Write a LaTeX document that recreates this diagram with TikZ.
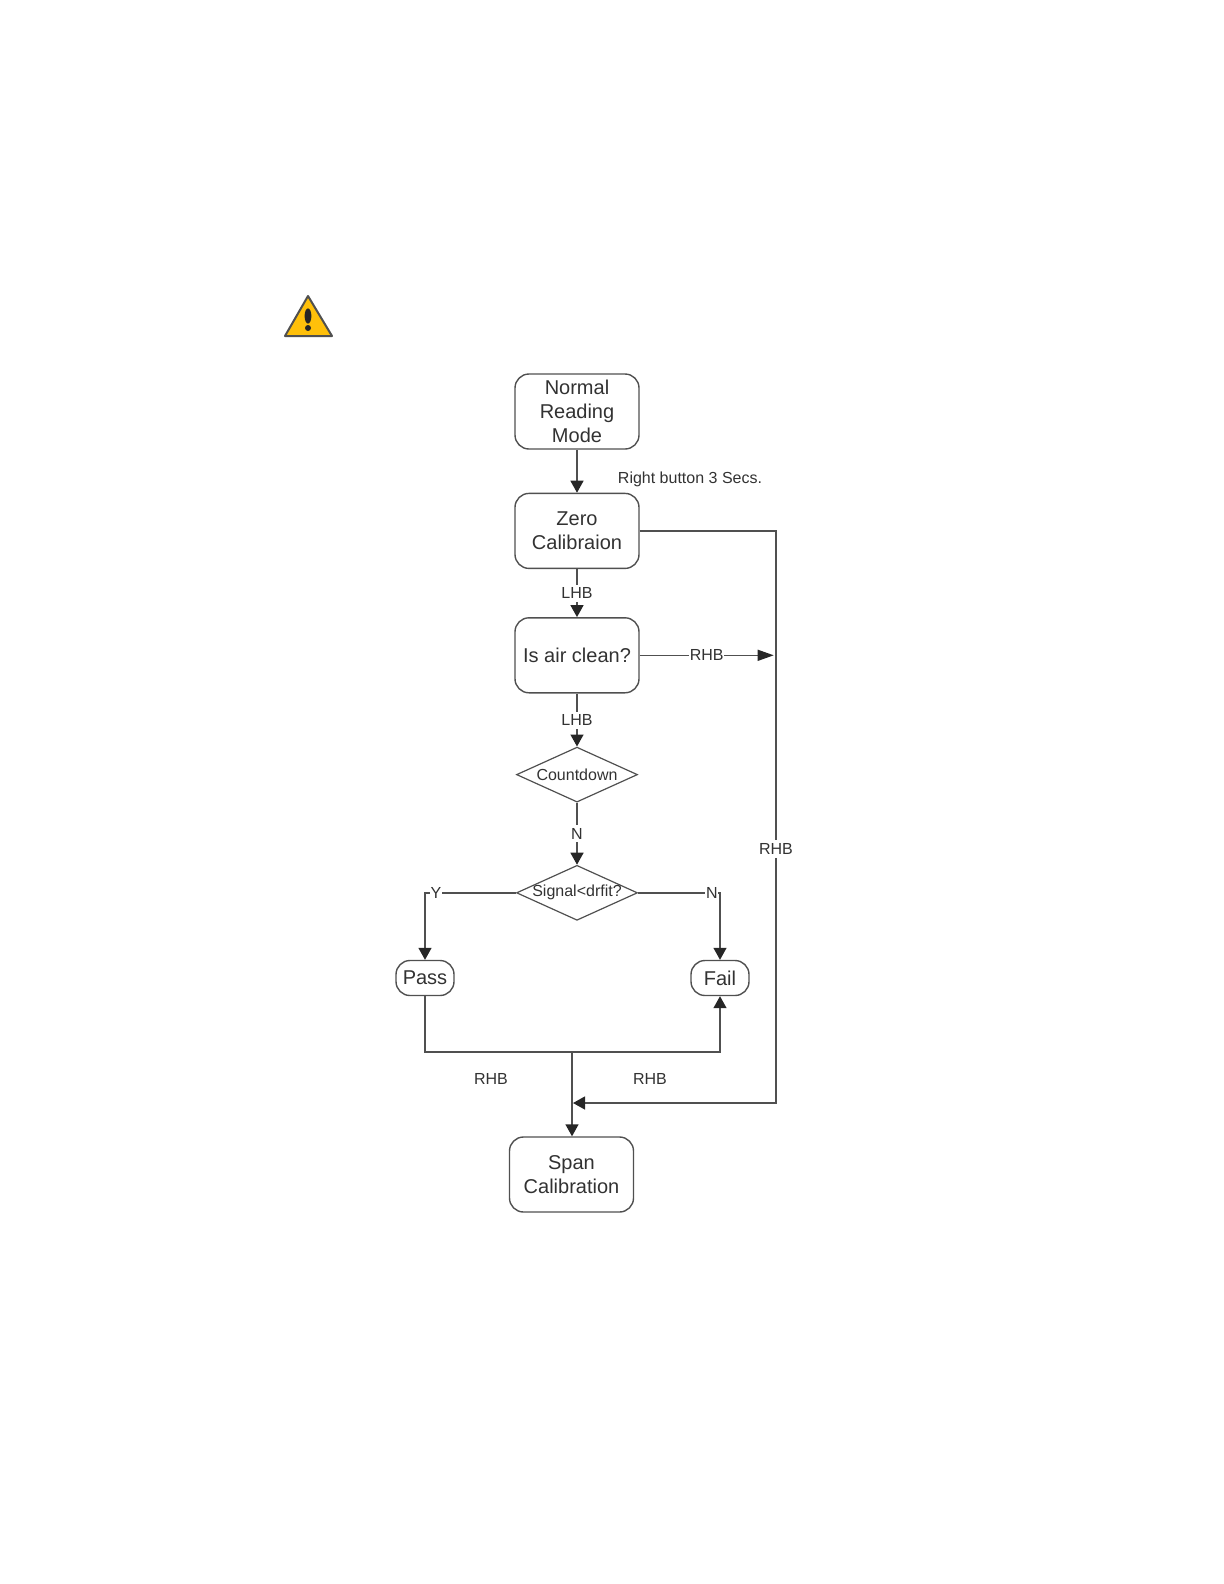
\documentclass[tikz,border=0pt]{standalone}
\usepackage{fontspec}
\setmainfont{Liberation Sans}
\usetikzlibrary{arrows.meta,positioning,shapes.geometric}
\definecolor{LineGrey}{RGB}{80,80,80}
\definecolor{TextGrey}{RGB}{50,50,50}
\definecolor{SignYellow}{RGB}{255,192,10}
\tikzset{
  modebox/.style={draw=LineGrey,rounded corners=7bp,line width=0.7bp,
    minimum width=62bp,minimum height=37.5bp,inner sep=0pt,align=center,
    text=TextGrey,font=\fontsize{10bp}{11.9bp}\selectfont},
  resultbox/.style={modebox,minimum width=29bp,minimum height=17.5bp},
  decision/.style={diamond,aspect=2.2,draw=LineGrey,line width=0.6bp,
    minimum width=60.5bp,minimum height=27.5bp,inner sep=-1.5bp,align=center,
    text=TextGrey,font=\fontsize{8bp}{9.5bp}\selectfont},
  keylabel/.style={fill=white,inner xsep=0.3bp,inner ysep=1.5bp,text=TextGrey,
    font=\fontsize{8bp}{9.5bp}\selectfont},
  plainlabel/.style={keylabel,fill=none},
  link/.style={draw=LineGrey,line width=0.7bp},
  arrow/.style={link,-{Triangle[length=6bp,width=6.5bp,color=black!85]}},
  longarrow/.style={link,-{Triangle[length=8bp,width=5.5bp,color=black!85]}}
}

\begin{document}
\begin{tikzpicture}[x=0.5bp,y=-0.5bp]
  \useasboundingbox (0,0) rectangle (1224,1584);
  \fill[SignYellow,draw=LineGrey,line width=1bp,line join=round] (308,296) -- (332,336) -- (285,336) -- cycle;
  \fill[black!85] (308,316) ellipse (1.7bp and 3.8bp);
  \fill[black!85] (308,328) circle (1.5bp);
  \node[modebox] (normal) at (577,411.5) {Normal\\Reading\\Mode};
  \node[modebox,below=21.5bp of normal] (zero) {Zero\\Calibraion};
  \node[modebox,below=24bp of zero] (air) {Is air clean?};
  \node[decision,below=26.5bp of air] (countdown) {Countdown};
  \node[decision,below=31bp of countdown] (signal) {Signal<drfit?};
  \node[resultbox] (pass) at (425,978) {Pass};
  \node[resultbox] (fail) at (720,978) {Fail};
  \node[modebox] (span) at (571.5,1174.5) {Span\\Calibration};
  \node[plainlabel] (button) at (690,479) {Right button 3 Secs.};
  \node[plainlabel] (rhbleft) at (491,1079) {RHB};
  \node[plainlabel] (rhbright) at (650,1079) {RHB};
  \node[keylabel] (rhbside) at (776,849) {RHB};
  \coordinate[right=67bp of air.east] (airend);
  \coordinate (join) at (572,1052);
  \coordinate (merge) at (573,1103);
  \draw[arrow] (normal) -- (zero);
  \draw[arrow] (zero) -- node[keylabel] {LHB} (air);
  \draw[arrow] (air) -- node[keylabel] {LHB} (countdown);
  \draw[arrow] (countdown) -- node[keylabel] {N} (signal);
  \draw[longarrow] (air.east) -- node[keylabel] {RHB} (airend);
  \draw[link] (zero.east) -| (rhbside);
  \draw[arrow] (rhbside) |- (merge);
  \draw[arrow] (signal.west) -| node[keylabel,pos=0.44] {Y} (pass.north);
  \draw[arrow] (signal.east) -| node[keylabel,pos=0.45] {N} (fail.north);
  \draw[link] (pass.south) |- (join);
  \draw[arrow] (join) -| (fail.south);
  \draw[arrow] (join) -- (span.north -| join);
\end{tikzpicture}
\end{document}
